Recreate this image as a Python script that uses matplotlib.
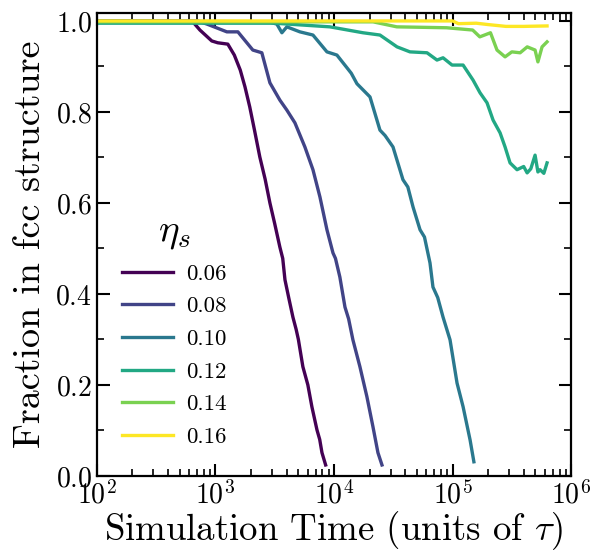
import matplotlib
matplotlib.use("Agg")
import matplotlib.pyplot as plt
from matplotlib.ticker import MultipleLocator, LogLocator, NullFormatter

plt.rcParams['font.family'] = 'serif'
plt.rcParams['font.serif'] = ['cmr10']
plt.rcParams['mathtext.fontset'] = 'cm'
plt.rcParams['axes.formatter.use_mathtext'] = True

labels = ['0.06', '0.08', '0.10', '0.12', '0.14', '0.16']

t06 = [100, 646, 741, 933, 1047, 1274, 1445, 1622, 1778, 1950, 2138, 2371, 2630, 2884,
       3162, 3499, 3700, 3864, 4169, 4508, 4800, 5012, 5470, 6026, 6516, 7194, 7586, 7925, 8511]
f06 = [1.0, 0.998, 0.98, 0.956, 0.952, 0.949, 0.925, 0.892, 0.855, 0.811, 0.76, 0.701, 0.652, 0.60,
       0.555, 0.503, 0.478, 0.431, 0.39, 0.349, 0.322, 0.30, 0.24, 0.20, 0.152, 0.101, 0.08, 0.051, 0.024]

t08 = [100, 708, 851, 1250, 1549, 2070, 2466, 2884, 3499, 4009, 4688, 5689, 6653, 7621, 8730,
       9817, 10300, 11220, 12388, 13300, 14454, 16558, 18967, 21330, 23496, 25410]
f08 = [1.0, 1.0, 0.993, 0.976, 0.976, 0.936, 0.930, 0.864, 0.826, 0.804, 0.776, 0.723, 0.673, 0.613,
       0.541, 0.490, 0.478, 0.437, 0.371, 0.345, 0.299, 0.240, 0.174, 0.108, 0.051, 0.024]

t10 = [100, 2818, 3304, 3639, 4009, 5164, 6653, 8730, 10593, 12882, 14000, 15631, 20137, 24434,
       27000, 31477, 38194, 42000, 46452, 53211, 58000, 64565, 68391, 75000, 83176, 95280, 109144,
       122744, 140605, 151356]
f10 = [1.0, 0.998, 0.993, 0.974, 0.987, 0.976, 0.969, 0.932, 0.925, 0.897, 0.885, 0.862, 0.833, 0.760,
       0.748, 0.723, 0.651, 0.635, 0.591, 0.541, 0.525, 0.468, 0.415, 0.392, 0.349, 0.299, 0.204,
       0.152, 0.079, 0.031]

t12 = [100, 3162, 9247, 17579, 24434, 34041, 43752, 60954, 73961, 83176, 99083, 122744, 148936,
       170608, 195434, 219786, 251768, 277332, 305492, 349945, 398107, 425598, 457088, 496592,
       524807, 547016, 588844, 626614]
f12 = [0.995, 0.995, 0.987, 0.974, 0.969, 0.943, 0.932, 0.930, 0.914, 0.919, 0.903, 0.903, 0.870,
       0.842, 0.820, 0.782, 0.754, 0.723, 0.688, 0.673, 0.680, 0.666, 0.675, 0.705,
       0.668, 0.673, 0.665, 0.688]

t14 = [100, 21380, 33884, 89125, 147911, 169824, 208930, 237137, 277332, 316228, 371535, 426580,
       496592, 524807, 568853, 626614]
f14 = [0.998, 0.998, 0.987, 0.985, 0.980, 0.965, 0.974, 0.936, 0.921, 0.932, 0.930, 0.943,
       0.936, 0.910, 0.943, 0.954]

t16 = [100, 100000, 112202, 158489, 199526, 281838, 398107, 626614]
f16 = [1.0, 1.0, 0.994, 0.995, 0.992, 0.988, 0.988, 0.989]

times = [t06, t08, t10, t12, t14, t16]
fracs = [f06, f08, f10, f12, f14, f16]

fig = plt.figure(figsize=(5.9, 5.54), dpi=100)
ax = fig.add_axes([0.164, 0.141, 0.804, 0.836])
cmap = plt.get_cmap('viridis')
n = len(labels)
for i, (t, f, lab) in enumerate(zip(times, fracs, labels)):
    ax.plot(t, f, color=cmap(i / (n - 1)), lw=2.4, label=lab)

ax.set_xscale('log')
ax.set_xlim(1e2, 1e6)
ax.set_ylim(0, 1.018)
ax.yaxis.set_major_locator(MultipleLocator(0.2))
ax.yaxis.set_minor_locator(MultipleLocator(0.1))
ax.xaxis.set_major_locator(LogLocator(base=10, numticks=10))
ax.xaxis.set_minor_locator(LogLocator(base=10, subs=range(2, 10), numticks=20))
ax.xaxis.set_minor_formatter(NullFormatter())
ax.tick_params(which='both', direction='in', top=True, right=True, labelsize=20)
ax.tick_params(which='major', length=9, width=1.5)
ax.tick_params(which='minor', length=5, width=1.2)
for s in ax.spines.values():
    s.set_linewidth(1.6)

ax.set_xlabel(r'Simulation Time (units of $\tau$)', fontsize=26.5, labelpad=0)
ax.set_ylabel('Fraction in fcc structure', fontsize=27.5, labelpad=6)

leg = ax.legend(title=r'$\eta_s$', loc='lower left', bbox_to_anchor=(0.02, 0.028),
                frameon=False, fontsize=16.5, title_fontsize=28, handlelength=2.2,
                labelspacing=0.55, handletextpad=0.6, borderpad=0.2)

fig.savefig('out.png', dpi=100)
